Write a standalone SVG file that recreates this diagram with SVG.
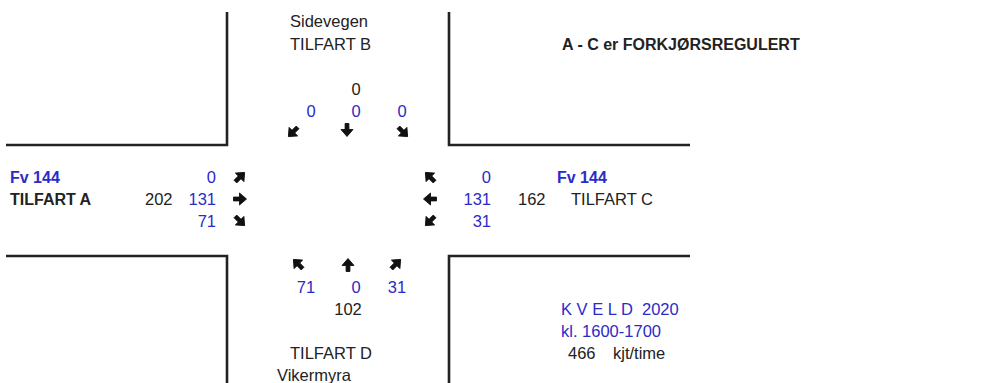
<svg xmlns="http://www.w3.org/2000/svg" xmlns:xlink="http://www.w3.org/1999/xlink" width="983" height="383" viewBox="0 0 983 383">
<style>
text{font-family:"Liberation Sans",Arial,sans-serif;font-size:16.5px;fill:#222;white-space:pre}
.b{fill:#2b2bc8}
.bold{font-weight:bold;font-size:16px}
.e{text-anchor:end}
.m{text-anchor:middle}
.road{stroke:#222;stroke-width:2.6;fill:none}
.arr{fill:#111;stroke:#111;stroke-width:0.9;stroke-linejoin:miter}
</style>
<defs>
<polygon id="ar" points="-6.5,-1.9 -0.5,-1.9 -0.5,-6 6.5,0 -0.5,6 -0.5,1.9 -6.5,1.9"/>
</defs>
<rect width="983" height="383" fill="#fff"/>
<g id="roads">
<polyline class="road" points="227,12 227,145 6,145"/>
<polyline class="road" points="449,12 449,145 690,145"/>
<polyline class="road" points="6,256 227,256 227,383"/>
<polyline class="road" points="690,256 449,256 449,383"/>
</g>
<g id="tilfartB">
<text x="290" y="27">Sidevegen</text>
<text x="290" y="50">TILFART B</text>
<text class="m" x="356" y="95">0</text>
<text class="b m" x="311" y="117">0</text>
<text class="b m" x="356" y="117">0</text>
<text class="b m" x="402" y="117">0</text>
</g>
<g id="tilfartA">
<text class="b bold" x="10" y="183">Fv 144</text>
<text class="bold" x="10" y="205">TILFART A</text>
<text x="145" y="205">202</text>
<text class="b e" x="216" y="183">0</text>
<text class="b e" x="216" y="205">131</text>
<text class="b e" x="216" y="227">71</text>
</g>
<g id="tilfartC">
<text class="b e" x="491" y="183">0</text>
<text class="b e" x="491" y="205">131</text>
<text class="b e" x="491" y="227">31</text>
<text x="518" y="205">162</text>
<text class="b bold" x="557" y="183">Fv 144</text>
<text x="571" y="205">TILFART C</text>
</g>
<g id="tilfartD">
<text class="b m" x="306" y="293">71</text>
<text class="b m" x="356" y="293">0</text>
<text class="b m" x="397" y="293">31</text>
<text class="m" x="348" y="315">102</text>
<text x="290" y="359">TILFART D</text>
<text x="277" y="381">Vikermyra</text>
</g>
<g id="note">
<text class="bold" x="562" y="50">A - C er FORKJØRSREGULERT</text>
</g>
<g id="info">
<text class="b" x="561" y="315" xml:space="preserve">K V E L D  2020</text>
<text class="b" x="561" y="337">kl. 1600-1700</text>
<text x="568" y="359">466</text>
<text x="613" y="359">kjt/time</text>
</g>
<g id="connectors" class="arr">
<use xlink:href="#ar" transform="translate(293,132) rotate(135)"/>
<use xlink:href="#ar" transform="translate(347,130) rotate(90)"/>
<use xlink:href="#ar" transform="translate(403,132) rotate(45)"/>
<use xlink:href="#ar" transform="translate(240,177) rotate(-45)"/>
<use xlink:href="#ar" transform="translate(240,199)"/>
<use xlink:href="#ar" transform="translate(240,221) rotate(45)"/>
<use xlink:href="#ar" transform="translate(430,177) rotate(-135)"/>
<use xlink:href="#ar" transform="translate(430,199) rotate(180)"/>
<use xlink:href="#ar" transform="translate(430,221) rotate(135)"/>
<use xlink:href="#ar" transform="translate(298,264) rotate(-135)"/>
<use xlink:href="#ar" transform="translate(348,265) rotate(-90)"/>
<use xlink:href="#ar" transform="translate(396,264) rotate(-45)"/>
</g>
</svg>
